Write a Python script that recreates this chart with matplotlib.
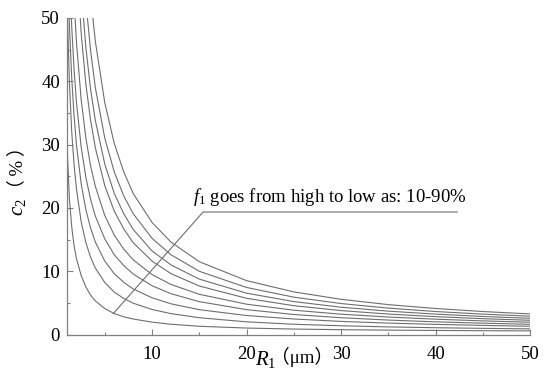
import numpy as np
import matplotlib
matplotlib.use("Agg")
import matplotlib.pyplot as plt
from matplotlib.ticker import MultipleLocator

nan = np.nan
# R1 sample positions (um)
R1 = [1, 1.25, 1.5, 1.75, 2, 2.5, 3, 3.5, 4, 5, 6, 7, 8, 10, 12, 15, 20, 25, 30, 35, 40, 45, 50]

# c2 (%), one list per f1 curve (bottom curve first)
c2_curve1 = [30, 21.5, 17.0, 14.0, 12.0, 9.3, 7.5, 6.2, 5.3, 4.1, 3.3, 2.8, 2.45, 1.95, 1.62, 1.30, 1.02, 0.86, 0.76, 0.69, 0.64, 0.60, 0.57]
c2_curve2 = [52.6, 40.0, 32.0, 26.8, 23.0, 17.8, 14.5, 12.2, 10.5, 8.2, 6.7, 5.7, 4.95, 3.95, 3.30, 2.65, 2.00, 1.62, 1.38, 1.20, 1.07, 0.97, 0.89]
c2_curve3 = [62, 49.0, 40.5, 34.5, 30.0, 23.8, 19.7, 16.8, 14.6, 11.6, 9.6, 8.25, 7.2, 5.8, 4.85, 3.92, 3.00, 2.45, 2.07, 1.80, 1.60, 1.44, 1.30]
c2_curve4 = [nan, 58.0, 48.6, 41.8, 36.7, 29.6, 24.8, 21.3, 18.7, 15.1, 12.6, 10.9, 9.56, 7.70, 6.45, 5.19, 3.93, 3.16, 2.65, 2.28, 2.00, 1.79, 1.61]
c2_curve5 = [nan, nan, 61.4, 52.7, 46.2, 37.1, 31.0, 26.6, 23.4, 18.8, 15.7, 13.5, 11.8, 9.47, 7.91, 6.35, 4.79, 3.84, 3.21, 2.76, 2.42, 2.15, 1.94]
c2_curve6 = [nan, nan, nan, nan, 59.7, 47.6, 39.5, 33.8, 29.5, 23.5, 19.5, 16.7, 14.5, 11.6, 9.62, 7.66, 5.72, 4.55, 3.78, 3.23, 2.82, 2.50, 2.25]
c2_curve7 = [nan, nan, nan, nan, 68.5, 54.5, 45.3, 38.7, 33.8, 26.9, 22.3, 19.1, 16.6, 13.2, 11.0, 8.75, 6.53, 5.20, 4.31, 3.69, 3.22, 2.85, 2.56]
c2_curve8 = [nan, nan, nan, nan, nan, 63.4, 52.5, 44.8, 39.0, 31.0, 25.7, 21.9, 19.1, 15.2, 12.6, 9.99, 7.43, 5.90, 4.89, 4.17, 3.63, 3.22, 2.89]
c2_curve9 = [nan, nan, nan, nan, nan, nan, 62.6, 53.3, 46.3, 36.6, 30.2, 25.7, 22.3, 17.7, 14.6, 11.5, 8.51, 6.73, 5.56, 4.72, 4.11, 3.63, 3.25]
curves = [c2_curve1, c2_curve2, c2_curve3, c2_curve4, c2_curve5,
          c2_curve6, c2_curve7, c2_curve8, c2_curve9]

x_ticks = [10, 20, 30, 40, 50]
y_ticks = [0, 10, 20, 30, 40, 50]
note = r"$f_1$ goes from high to low as: 10-90%"

plt.rcParams['font.family'] = ['Liberation Serif', 'Noto Sans CJK SC', 'DejaVu Sans']
plt.rcParams['mathtext.fontset'] = 'custom'
plt.rcParams['mathtext.rm'] = 'Liberation Serif'
plt.rcParams['mathtext.it'] = 'Liberation Serif:italic'

W, H = 550, 388
fig = plt.figure(figsize=(W / 100, H / 100), dpi=100)
ax = fig.add_axes([67 / W, 1 - 334.5 / H, (530 - 67) / W, (334.5 - 18) / H])

gray = '#6e6e6e'
for c in curves:
    ax.plot(R1, c, color=gray, lw=0.8, solid_joinstyle='round')

ax.set_xlim(1, 50)
ax.set_ylim(0, 50)
ax.set_xticks(x_ticks)
ax.set_yticks(y_ticks)
ax.xaxis.set_minor_locator(MultipleLocator(5))
ax.yaxis.set_minor_locator(MultipleLocator(5))
for s in ['top', 'right']:
    ax.spines[s].set_visible(False)
for s in ['left', 'bottom']:
    ax.spines[s].set_color('#808080')
    ax.spines[s].set_linewidth(0.9)
ax.tick_params(which='major', direction='in', length=4, width=0.8, color='#808080',
               labelsize=13.5, labelcolor='black')
ax.tick_params(which='minor', direction='in', length=2.2, width=0.8, color='#808080')
ax.tick_params(axis='x', which='major', pad=8)
ax.tick_params(axis='y', which='major', pad=5)

# annotation: leader and horizontal line
ax.plot([5.9, 15.4, 42.3], [3.3, 19.35, 19.35], color=gray, lw=0.8)
ax.text(14.3, 21.0, note, fontsize=13.5, ha='left', va='baseline')

# axis labels composed of pieces
def px(x, y):
    return x / W, 1 - y / H

cjk = ['Liberation Serif', 'Noto Sans CJK SC']
fig.text(*px(266, 359), r"$R_1$", fontsize=15, ha='center', va='center')
fig.text(*px(302, 357), "（μm）", fontsize=13.5, ha='center', va='center', family=cjk)
fig.text(*px(19, 207), r"$c_2$", fontsize=15, ha='center', va='center', rotation=90)
fig.text(*px(17, 168), "（\u2009%\u2009）", fontsize=13.5, ha='center', va='center',
         rotation=90, family=cjk)

fig.savefig('out.png', dpi=100, facecolor='white')
